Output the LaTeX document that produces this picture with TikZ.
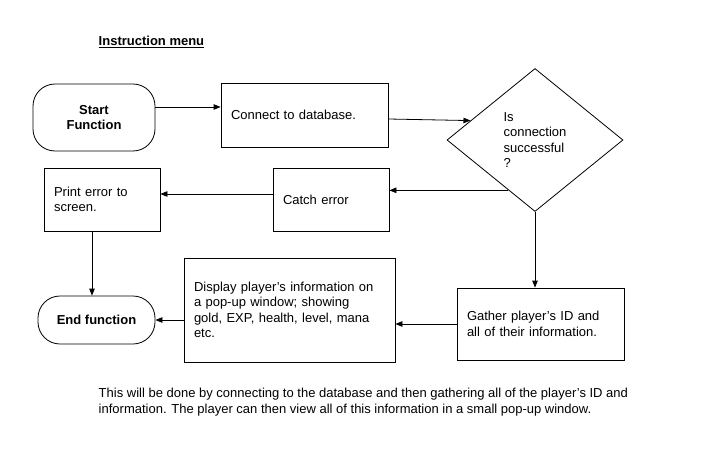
\documentclass[tikz,border=0pt]{standalone}
\usepackage{fontspec}
\setmainfont{Liberation Sans}
\usetikzlibrary{shapes.geometric,arrows.meta,calc}
\begin{document}
\begin{tikzpicture}[x=1pt,y=-1pt,line width=0.8pt,
    font=\fontsize{13}{15.5}\selectfont,
    arr/.style={-{Triangle[length=7pt,width=5.5pt]}},
    stepbox/.style={draw,rectangle,inner xsep=10pt,inner ysep=0pt,align=left,text width=#1},
    endbox/.style={draw,rectangle,rounded corners=22pt,font=\fontsize{13}{15.5}\selectfont\bfseries,align=center}]
    \useasboundingbox (0,0) rectangle (719,457);

    \node[anchor=west] (title) at (95,42) {\underline{\textbf{Instruction menu}}};

    \node[endbox,minimum width=122pt,minimum height=67pt] (start) at (94,117.5) {Start\\Function};
    \node[stepbox=147pt,minimum width=167pt,minimum height=64pt] (connect) at (304.5,115) {Connect to database.};
    \node[draw,diamond,minimum width=176pt,minimum height=143pt,inner sep=0pt,align=left] (decide) at (535,140)
        {Is\\connection\\successful\\?};
    \node[stepbox=96pt,minimum width=116pt,minimum height=63pt] (catch) at (331,199.5) {Catch error};
    \node[stepbox=96pt,minimum width=116pt,minimum height=63pt] (print) at (102,199.5) {Print error to\\screen.};
    \node[stepbox=147pt,minimum width=167pt,minimum height=72pt] (gather) at (540.5,324)
        {Gather player's ID and\\all of their information.};
    \node[stepbox=191pt,minimum width=211pt,minimum height=104pt] (display) at (289.5,310)
        {Display player's information on\\a pop-up window; showing\\gold, EXP, health, level, mana\\etc.};
    \node[endbox,minimum width=117pt,minimum height=48pt] (end) at (96.5,320) {End function};

    \node[anchor=west,align=left] (note) at (95,402)
        {This will be done by connecting to the database and then gathering all of the player's ID and\\
         information. The player can then view all of this information in a small pop-up window.};

    \coordinate (upleft) at ($(decide.west)!0.27!(decide.north)$);
    \coordinate (lowleft) at ($(decide.west)!0.7!(decide.south)$);

    \draw[arr] ([yshift=10.5pt]start.east) -- ([yshift=8pt]connect.west);
    \draw[arr] ([yshift=-4pt]connect.east) -- (upleft);
    \draw[arr] (lowleft) -- (lowleft -| catch.east);
    \draw[arr] ([yshift=5.5pt]catch.west) -- ([yshift=5.5pt]print.east);
    \draw[arr] ([xshift=-10pt]print.south) -- ([xshift=-4.5pt]end.north);
    \draw[arr] (decide.south) -- (decide.south |- gather.north);
    \draw[arr] (gather.west) -- (gather.west -| display.east);
    \draw[arr] ([yshift=-10pt]display.west) -- (end.east);
\end{tikzpicture}
\end{document}
